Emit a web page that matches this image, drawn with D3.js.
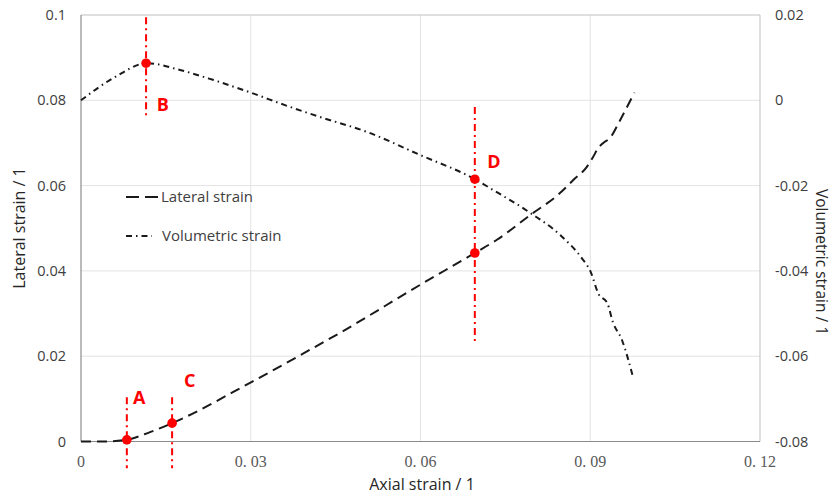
<!DOCTYPE html>
<html><head><meta charset="utf-8">
<script src="https://cdn.jsdelivr.net/npm/d3@7"></script>
<style>body{margin:0;background:#fff}svg{display:block}</style>
</head><body><svg id="c" width="835" height="498"></svg>
<script>
const xTicks = [0, 0.03, 0.06, 0.09, 0.12];
const xTickLabels = ["0", "0. 03", "0. 06", "0. 09", "0. 12"];
const leftTicks = [0, 0.02, 0.04, 0.06, 0.08, 0.1];
const leftTickLabels = ["0", "0.02", "0.04", "0.06", "0.08", "0.1"];
const rightTicks = [-0.08, -0.06, -0.04, -0.02, 0, 0.02];
const rightTickLabels = ["-0.08", "-0.06", "-0.04", "-0.02", "0", "0.02"];

const lateralX = [0, 0.0042, 0.0081, 0.0122, 0.0161, 0.0302, 0.0387, 0.0458, 0.0599, 0.0696, 0.0735, 0.0794, 0.0847, 0.0870, 0.0894, 0.0905, 0.0914, 0.0923, 0.0935, 0.0953, 0.0978];
const lateralY = [0, 0, 0.0004, 0.0022, 0.0043, 0.0140, 0.0202, 0.0255, 0.0367, 0.0442, 0.0473, 0.0531, 0.0583, 0.0613, 0.0644, 0.0667, 0.0688, 0.0700, 0.0712, 0.0754, 0.0818];

const volX = [0, 0.0057, 0.0117, 0.0175, 0.0233, 0.0302, 0.0364, 0.0422, 0.0505, 0.0599, 0.0696, 0.0728, 0.0794, 0.0847, 0.0885, 0.0900, 0.0915, 0.0930, 0.0940, 0.0956, 0.0976];
const volY = [0, 0.0052, 0.0087, 0.0071, 0.0048, 0.0017, -0.0013, -0.0039, -0.0074, -0.0128, -0.0185, -0.0210, -0.0264, -0.0316, -0.0370, -0.0400, -0.0455, -0.0475, -0.0520, -0.0562, -0.0651];

// marker points (axis "L" = lateral / left, "V" = volumetric / right)
const markerX = [0.0081, 0.0115, 0.0161, 0.0696, 0.0696];
const markerY = [0.0004, 0.0087, 0.0043, -0.0185, 0.0442];
const markerAxis = ["L", "V", "L", "V", "L"];
// vertical red guide lines
const guideX = [0.0081, 0.0115, 0.0161, 0.0696];
const guideTop = [0.0104, 0.0195, 0.0104, 0.0784];
const guideBottom = [-0.0063, -0.0037, -0.0063, 0.0231];
const guideAxis = ["L", "V", "L", "L"];
// point labels
const labelNames = ["A", "B", "C", "D"];
const lblX = [0.0092, 0.0134, 0.0182, 0.0718];
const lblY = [0.0088, 0.0775, 0.0128, 0.0641];

const svg = d3.select("#c");
const m = {l: 81, r: 760, t: 15, b: 441.5};
const x = d3.scaleLinear().domain([0, 0.12]).range([m.l, m.r]);
const yL = d3.scaleLinear().domain([0, 0.1]).range([m.b, m.t]);
const yR = d3.scaleLinear().domain([-0.08, 0.02]).range([m.b, m.t]);

// grid
const g = svg.append("g");
g.selectAll(".hg").data(leftTicks.slice(1, -1)).enter().append("line")
  .attr("x1", m.l).attr("x2", m.r).attr("y1", d => yL(d)).attr("y2", d => yL(d))
  .attr("stroke", "#e3e3e3").attr("stroke-width", 1);
g.selectAll(".vg").data(xTicks.slice(1, -1)).enter().append("line")
  .attr("y1", m.t).attr("y2", m.b).attr("x1", d => x(d)).attr("x2", d => x(d))
  .attr("stroke", "#e3e3e3").attr("stroke-width", 1);

// border
svg.append("line").attr("x1", m.l).attr("x2", m.r).attr("y1", m.t).attr("y2", m.t).attr("stroke", "#bfbfbf");
svg.append("line").attr("x1", m.r).attr("x2", m.r).attr("y1", m.t).attr("y2", m.b).attr("stroke", "#bfbfbf");
svg.append("line").attr("x1", m.l).attr("x2", m.l).attr("y1", m.t).attr("y2", m.b).attr("stroke", "#8c8c8c").attr("stroke-width", 1.2);
svg.append("line").attr("x1", m.l).attr("x2", m.r).attr("y1", m.b).attr("y2", m.b).attr("stroke", "#8c8c8c").attr("stroke-width", 1.2);

// tick labels
const sans = "'Open Sans', 'Liberation Sans', sans-serif";
svg.selectAll(".lt").data(leftTicks).enter().append("text")
  .attr("x", 66).attr("y", d => yL(d) + 5).attr("text-anchor", "end")
  .attr("font-family", sans).attr("font-size", 14.5).attr("fill", "#404040")
  .text((d, i) => leftTickLabels[i]);
svg.selectAll(".rt").data(rightTicks).enter().append("text")
  .attr("x", 775).attr("y", d => yR(d) + 5).attr("text-anchor", "start")
  .attr("font-family", sans).attr("font-size", 14.5).attr("fill", "#404040")
  .text((d, i) => rightTickLabels[i]);
svg.selectAll(".xt").data(xTicks).enter().append("text")
  .attr("x", d => x(d)).attr("y", 467).attr("text-anchor", "middle")
  .attr("font-family", "'Liberation Serif', 'DejaVu Serif', serif").attr("font-size", 16).attr("fill", "#595959")
  .text((d, i) => xTickLabels[i]);

// axis titles
svg.append("text").attr("x", 422).attr("y", 490).attr("text-anchor", "middle")
  .attr("font-family", sans).attr("font-size", 16).attr("fill", "#262626").text("Axial strain / 1");
svg.append("text").attr("transform", "translate(25,228) rotate(-90)").attr("text-anchor", "middle")
  .attr("font-family", sans).attr("font-size", 16).attr("fill", "#262626").text("Lateral strain / 1");
svg.append("text").attr("transform", "translate(816,262) rotate(90)").attr("text-anchor", "middle")
  .attr("font-family", sans).attr("font-size", 15.5).attr("fill", "#262626").text("Volumetric strain / 1");

// curves
const latData = lateralX.map((v, i) => [v, lateralY[i]]);
const volData = volX.map((v, i) => [v, volY[i]]);
svg.append("path").datum(latData)
  .attr("d", d3.line().x(d => x(d[0])).y(d => yL(d[1])).curve(d3.curveMonotoneX))
  .attr("fill", "none").attr("stroke", "#1a1a1a").attr("stroke-width", 2).attr("stroke-dasharray", "10,6");
svg.append("path").datum(volData)
  .attr("d", d3.line().x(d => x(d[0])).y(d => yR(d[1])).curve(d3.curveMonotoneX))
  .attr("fill", "none").attr("stroke", "#1a1a1a").attr("stroke-width", 2).attr("stroke-dasharray", "6,4,1.5,4");

// guides
const yOf = (a, v) => a === "L" ? yL(v) : yR(v);
svg.selectAll(".guide").data(guideX).enter().append("line")
  .attr("x1", d => x(d)).attr("x2", d => x(d))
  .attr("y1", (d, i) => yOf(guideAxis[i], guideTop[i]))
  .attr("y2", (d, i) => yOf(guideAxis[i], guideBottom[i]))
  .attr("stroke", "#ff0000").attr("stroke-width", 2).attr("stroke-dasharray", "7,4,2,4");
svg.selectAll(".mk").data(markerX).enter().append("circle")
  .attr("cx", d => x(d)).attr("cy", (d, i) => yOf(markerAxis[i], markerY[i])).attr("r", 4.8)
  .attr("fill", "#ff0000");

// marker labels
svg.selectAll(".ml").data(labelNames).enter().append("text")
  .attr("x", (d, i) => x(lblX[i])).attr("y", (d, i) => yL(lblY[i]))
  .attr("font-family", sans).attr("font-weight", "bold").attr("font-size", 18).attr("fill", "#ff0000")
  .text(d => d);

// legend
const leg = svg.append("g");
leg.append("line").attr("x1", 126).attr("x2", 160).attr("y1", 197).attr("y2", 197)
  .attr("stroke", "#1a1a1a").attr("stroke-width", 2).attr("stroke-dasharray", "13,6");
leg.append("text").attr("x", 161).attr("y", 202).attr("font-family", sans).attr("font-size", 15)
  .attr("fill", "#404040").text("Lateral strain");
leg.append("line").attr("x1", 126).attr("x2", 152).attr("y1", 236).attr("y2", 236)
  .attr("stroke", "#1a1a1a").attr("stroke-width", 2).attr("stroke-dasharray", "6,4,1.5,4");
leg.append("text").attr("x", 162).attr("y", 241).attr("font-family", sans).attr("font-size", 15)
  .attr("fill", "#404040").text("Volumetric strain");
</script></body></html>
